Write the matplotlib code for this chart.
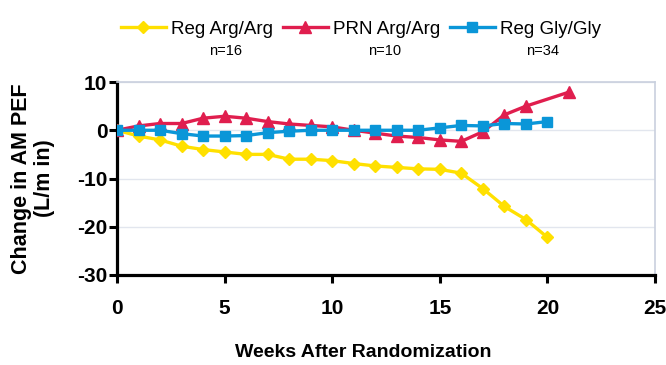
import numpy as np
import matplotlib
matplotlib.use("Agg")
import matplotlib.pyplot as plt

plt.rcParams['font.family'] = ['Liberation Sans', 'DejaVu Sans']
plt.rcParams['axes.unicode_minus'] = False

# data
weeks_reg_arg = list(range(0, 21))
reg_arg = [0, -1.2, -2.0, -3.3, -4.0, -4.5, -5.0, -5.0, -6.0, -6.0, -6.3,
           -6.9, -7.4, -7.7, -8.0, -8.1, -8.9, -12.1, -15.8, -18.5, -22.2]

weeks_prn_arg = list(range(0, 20)) + [21]
prn_arg = [0, 0.9, 1.4, 1.4, 2.5, 2.9, 2.5, 1.8, 1.3, 1.0, 0.7,
           0.0, -0.6, -1.2, -1.5, -2.0, -2.3, -0.3, 3.2, 5.0, 7.9]

weeks_reg_gly = list(range(0, 21))
reg_gly = [0, 0, 0, -0.7, -1.2, -1.2, -1.1, -0.5, -0.2, 0, 0,
           0, 0, 0, 0, 0.5, 1.0, 0.9, 1.4, 1.3, 1.8]

series_names = ['Reg Arg/Arg', 'PRN Arg/Arg', 'Reg Gly/Gly']
n_labels = ['n=16', 'n=10', 'n=34']
x_ticks = [0, 5, 10, 15, 20, 25]
y_ticks = [-30, -20, -10, 0, 10]

yellow = '#FFE000'
red = '#E01E4E'
blue = '#0A96D8'

fig = plt.figure(figsize=(6.66, 3.65), dpi=100)
ax = fig.add_axes([0.1757, 0.2466, 0.8078, 0.5287])

ax.plot(weeks_reg_arg, reg_arg, color=yellow, lw=2.4, marker='D', ms=6.5,
        mec=yellow, label=series_names[0], zorder=3)
ax.plot(weeks_prn_arg, prn_arg, color=red, lw=2.4, marker='^', ms=8,
        mec=red, label=series_names[1], zorder=4)
ax.plot(weeks_reg_gly, reg_gly, color=blue, lw=2.4, marker='s', ms=7.5,
        mec=blue, label=series_names[2], zorder=5)

ax.set_xlim(0, 25)
ax.set_ylim(-30, 10)
ax.set_xticks(x_ticks)
ax.set_yticks(y_ticks)
ax.yaxis.grid(True, color='#e2e6ee', lw=1)
ax.set_axisbelow(True)

for s in ['left', 'bottom']:
    ax.spines[s].set_linewidth(2.3)
    ax.spines[s].set_color('black')
for s in ['top', 'right']:
    ax.spines[s].set_linewidth(1.2)
    ax.spines[s].set_color('#c9d0de')

ax.tick_params(axis='both', direction='out', width=2.2, length=6,
               labelsize=15)
ax.tick_params(axis='x', pad=11)
ax.tick_params(axis='y', pad=1)
for lab in ax.get_xticklabels() + ax.get_yticklabels():
    lab.set_fontweight('bold')

ax.set_xlabel('Weeks After Randomization', fontsize=14, fontweight='bold',
              va='center', ha='center')
ax.xaxis.set_label_coords(0.458, -0.40)
ax.set_ylabel('Change in AM PEF\n(L/m in)', fontsize=15.5, fontweight='bold',
              linespacing=1.08, va='center', ha='center')
ax.yaxis.set_label_coords(-0.156, 0.5)

leg = fig.legend(loc='center', bbox_to_anchor=(0.542, 0.92), ncol=3,
                 frameon=False, fontsize=13.5, handlelength=2.4,
                 handletextpad=0.3, columnspacing=0.5, borderaxespad=0)

n_x = [0.339, 0.578, 0.815]
for x, t in zip(n_x, n_labels):
    fig.text(x, 0.86, t, ha='center', va='center', fontsize=10.5)

plt.savefig('out.png', dpi=100)
